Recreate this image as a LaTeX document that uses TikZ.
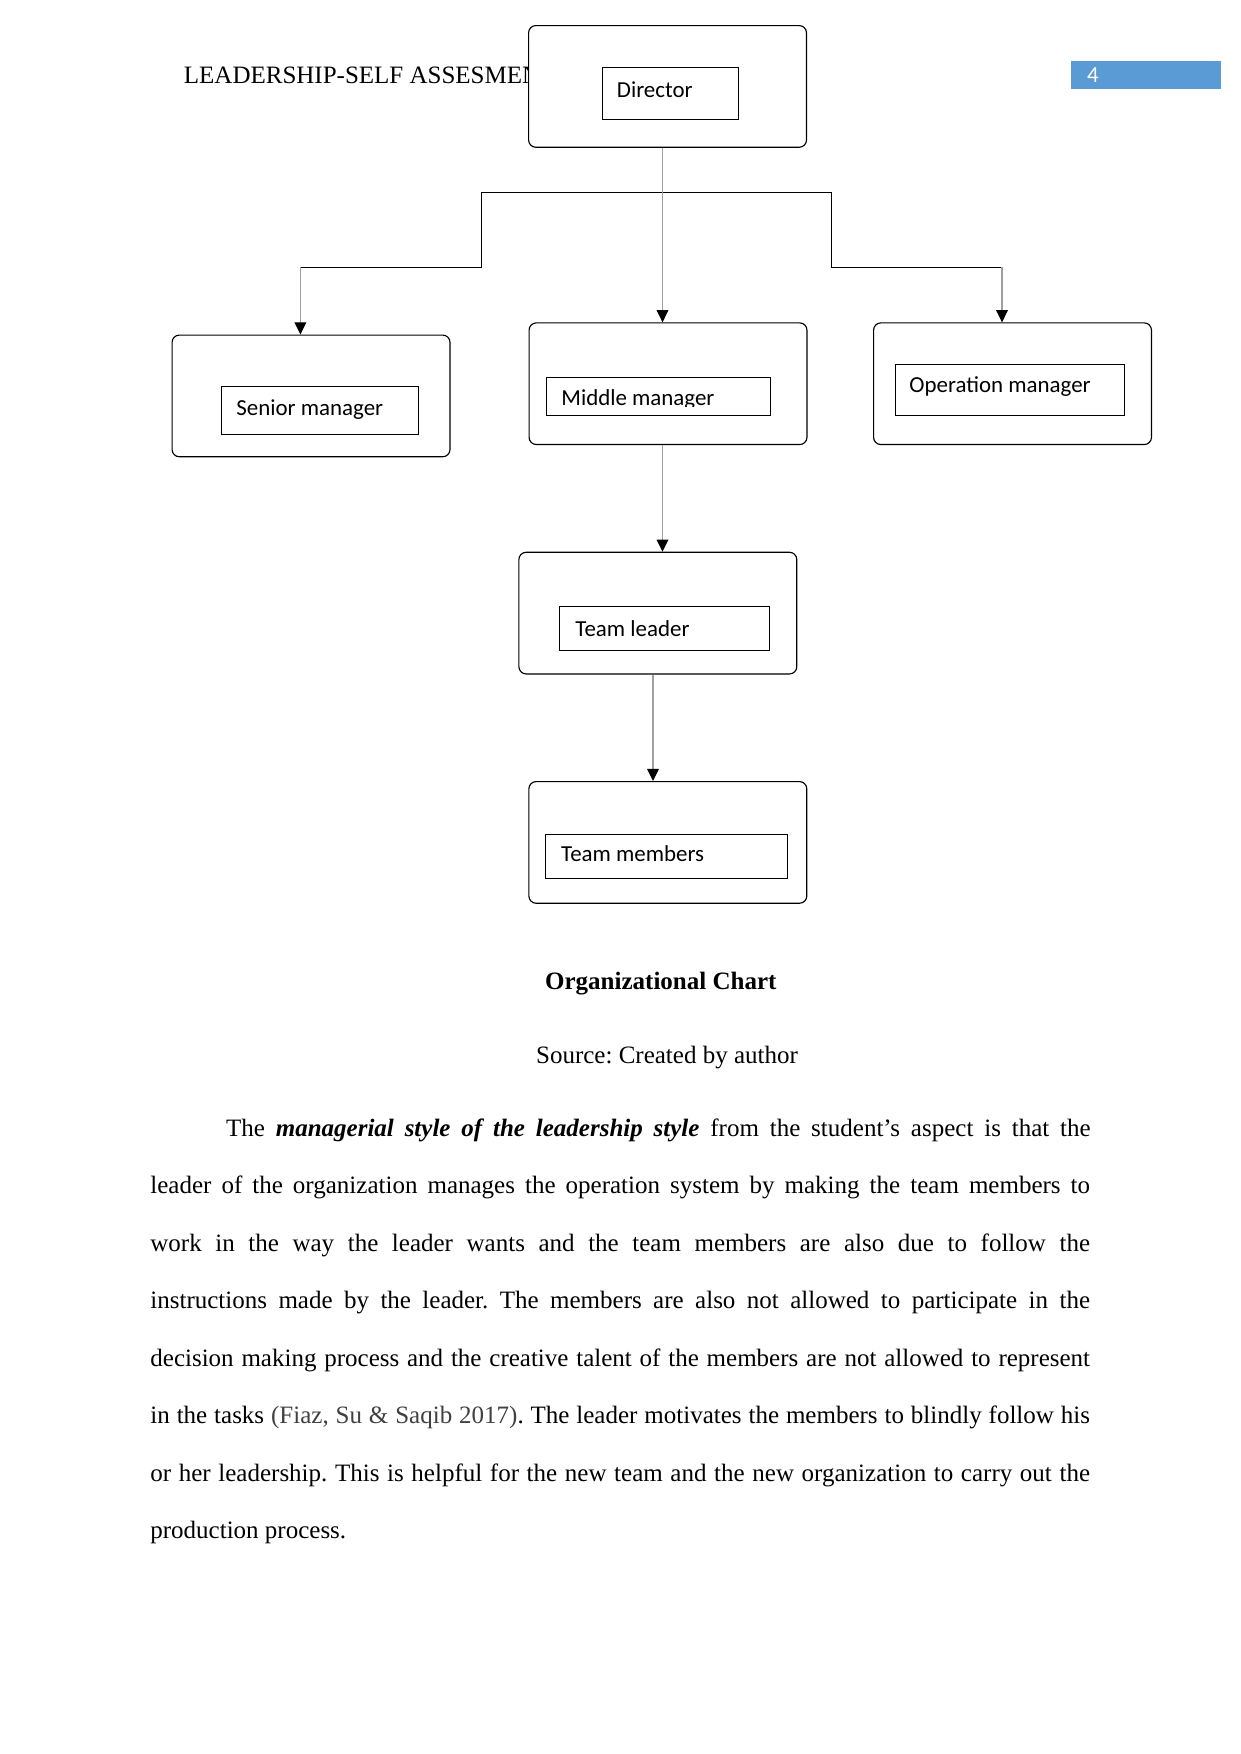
\documentclass[tikz,border=0pt]{standalone}
\usepackage{fontspec}
\setmainfont{Liberation Serif}
\newfontfamily\boxfont{Carlito}
\usetikzlibrary{arrows.meta}
\definecolor{pgblue}{HTML}{5B9BD5}
\definecolor{citegray}{HTML}{404040}
\definecolor{conngray}{HTML}{A0A0A0}
\frenchspacing
\begin{document}
\begin{tikzpicture}[x=0.48pt,y=-0.48pt,
  outerbox/.style={draw, line width=0.55pt, rounded corners=3.5pt, fill=white, inner sep=0pt, anchor=north west, minimum width=133.4pt, minimum height=58.4pt},
  innerbox/.style 2 args={draw, line width=0.5pt, inner sep=0pt, anchor=north west, minimum width={#1*0.48pt}, minimum height={#2*0.48pt}},
  lbl/.style={anchor=base west, inner sep=0pt, font=\boxfont\fontsize{11pt}{13pt}\selectfont},
  serif/.style={inner sep=0pt, font=\fontsize{12pt}{14pt}\selectfont},
  bodyline/.style={serif, anchor=base west},
  conn/.style={draw=conngray, line width=0.5pt, -{Triangle[width=5.6pt,length=5.8pt,color=black]}},
  elbow/.style={draw=black, line width=0.5pt}]
\useasboundingbox (0,0) rectangle (1241,1754);

% header
\node[serif, anchor=base west] (hdr) at (183.5,83) {LEADERSHIP-SELF ASSESMENT};
\node[fill=pgblue, inner sep=0pt, anchor=north west, minimum width={150*0.48pt}, minimum height={27.7*0.48pt}] (pbox) at (1071,61) {};
\node[anchor=base west, inner sep=0pt, text=white, font=\boxfont\fontsize{11pt}{13pt}\selectfont] (pnum) at (1086.7,82.7) {4};

% boxes
\node[outerbox] (dir) at (528,25) {};
\node[innerbox={135.5}{52}] (dirI) at (602,67.3) {};
\node[lbl] (dirT) at (616.5,97) {Director};

\node[outerbox] (sm) at (171.5,334.5) {};
\node[innerbox={197}{48}] (smI) at (220.5,386.3) {};
\node[lbl] (smT) at (236,415) {Senior manager};

\node[outerbox] (mm) at (528.5,322.3) {};
\node[innerbox={224}{38}] (mmI) at (545.5,377.3) {};
\begin{scope}
  \clip (545.5,377.3) rectangle (769.4,406.8);
  \node[lbl] (mmT) at (561,405.3) {Middle manager};
\end{scope}

\node[outerbox] (om) at (873,322.3) {};
\node[innerbox={229}{51.3}] (omI) at (894.5,364) {};
\node[lbl] (omT) at (909,392) {Operation manager};

\node[outerbox] (tl) at (518.3,551.7) {};
\node[innerbox={210.3}{44}] (tlI) at (559,606.3) {};
\node[lbl] (tlT) at (575,636) {Team leader};

\node[outerbox] (tm) at (528.3,781) {};
\node[innerbox={241.7}{44.7}] (tmI) at (545.3,833.5) {};
\node[lbl] (tmT) at (560.7,861.7) {Team members};

% connectors
\coordinate (kM) at (662.5,0);
\coordinate (kT) at (653,0);
\coordinate (jL) at (481.8,192.3);
\coordinate (jR) at (831.4,192.3);
\coordinate (kL) at (300.4,267.3);
\coordinate (kR) at (1002,267.3);
\draw[elbow] (jL) -- (jR);
\draw[elbow] (jL) |- (kL);
\draw[elbow] (jR) |- (kR);
\draw[conn] (kL) -- (kL |- sm.north);
\draw[conn] (kR) -- (kR |- om.north);
\draw[conn] (dir.south -| kM) -- (mm.north -| kM);
\draw[conn] (mm.south -| kM) -- (tl.north -| kM);
\draw[conn] (tl.south -| kT) -- (tm.north -| kT);

% caption
\node[serif, anchor=base, font=\bfseries\fontsize{12pt}{14pt}\selectfont] (cap) at (660.8,989) {Organizational Chart};
\node[serif, anchor=base] (src) at (667,1063) {Source: Created by author};

% body text
\node[bodyline] (l1) at (225.7,1136) {\makebox[415pt][s]{The \textbf{\textit{managerial style of the leadership style}} from the student’s aspect is that the}};
\node[bodyline] (l2) at (150,1193.5) {\makebox[451pt][s]{leader of the organization manages the operation system by making the team members to}};
\node[bodyline] (l3) at (150,1251) {\makebox[451pt][s]{work in the way the leader wants and the team members are also due to follow the}};
\node[bodyline] (l4) at (150,1308.5) {\makebox[451pt][s]{instructions made by the leader. The members are also not allowed to participate in the}};
\node[bodyline] (l5) at (150,1366) {\makebox[451pt][s]{decision making process and the creative talent of the members are not allowed to represent}};
\node[bodyline] (l6) at (150,1423.5) {\makebox[451pt][s]{in the tasks {\color{citegray}(Fiaz, Su \& Saqib 2017)}. The leader motivates the members to blindly follow his}};
\node[bodyline] (l7) at (150,1481) {\makebox[451pt][s]{or her leadership. This is helpful for the new team and the new organization to carry out the}};
\node[bodyline] (l8) at (150,1538.5) {production process.};
\end{tikzpicture}
\end{document}
